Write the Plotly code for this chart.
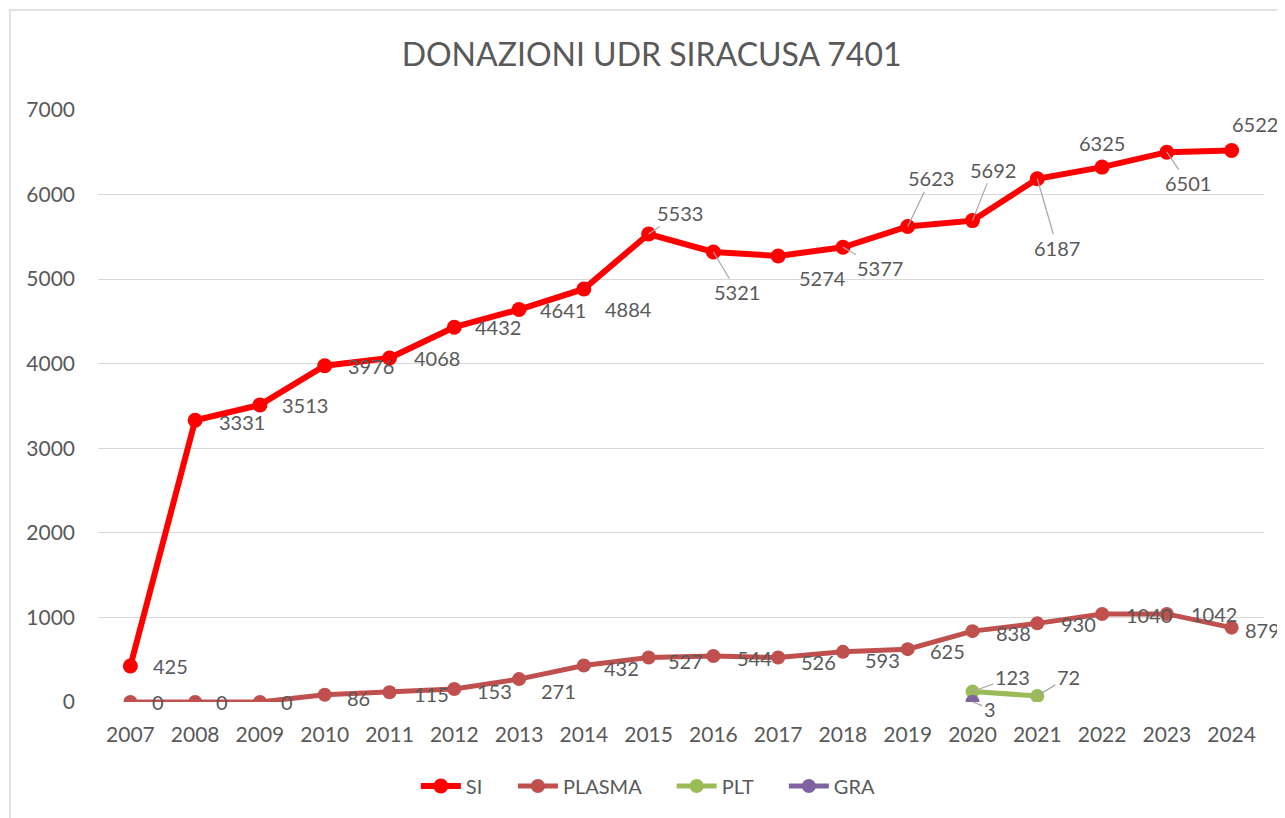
import plotly.graph_objects as go

years = list(range(2007, 2025))
si = [425, 3331, 3513, 3976, 4068, 4432, 4641, 4884, 5533, 5321, 5274, 5377, 5623, 5692, 6187, 6325, 6501, 6522]
plasma = [0, 0, 0, 86, 115, 153, 271, 432, 527, 544, 526, 593, 625, 838, 930, 1040, 1042, 879]
plt_years = [2020, 2021]
plt_vals = [123, 72]
gra_years = [2020]
gra_vals = [3]
y_ticks = [0, 1000, 2000, 3000, 4000, 5000, 6000, 7000]

# label offsets in pixels (dx, dy up-positive, leader line?)
si_off = [(40, 0, 0), (47, -2, 0), (45, 0, 0), (46, 0, 0), (47, 0, 0), (44, 0, 0), (44, 0, 0),
          (45, -20, 0), (31, 21, 1), (24, -40, 1), (44, -22, 0), (37, -21, 1), (23, 48, 1),
          (20, 51, 1), (20, -69, 1), (0, 24, 0), (21, -31, 1), (23, 26, 0)]
pl_off = [(28, 0, 0), (27, 0, 0), (27, 0, 0), (34, -3, 0), (42, -2, 0), (40, -2, 0), (39, -12, 0),
          (38, -3, 0), (37, -4, 0), (41, -2, 0), (40, -4, 0), (40, -8, 0), (40, -2, 0), (41, -2, 0),
          (41, -1, 0), (47, -1, 0), (47, 0, 0), (31, -2, 0)]
plt_off = [(40, 15, 1), (31, 19, 1)]
gra_off = [(17, -7, 1)]

FONT = "Lato, Carlito, Calibri, sans-serif"
GREY = "#595959"
PAD = "\u00a0" * 5

fig = go.Figure()
series = [
    ("SI", years, si, "#FF0000", 6, 15, si_off),
    ("PLASMA", years, plasma, "#C0504D", 5, 14, pl_off),
    ("PLT", plt_years, plt_vals, "#9BBB59", 5, 14, plt_off),
    ("GRA", gra_years, gra_vals, "#8064A2", 5, 14, gra_off),
]
annotations = []
for k, (name, xs, ys, col, lw, ms, offs) in enumerate(series):
    fig.add_trace(go.Scatter(x=xs, y=ys, name=name + (PAD if k < len(series) - 1 else ""),
                             mode="lines+markers",
                             line=dict(color=col, width=lw),
                             marker=dict(color=col, size=ms)))
    for x, y, (dx, dy, lead) in zip(xs, ys, offs):
        if lead:
            annotations.append(dict(x=x, y=y, xref="x", yref="y", text=str(y), showarrow=True,
                                    ax=dx, ay=-dy, arrowhead=0, arrowwidth=1.2,
                                    arrowcolor="#a6a6a6", standoff=0,
                                    font=dict(family=FONT, size=20, color=GREY)))
        else:
            annotations.append(dict(x=x, y=y, xref="x", yref="y", text=str(y), showarrow=False,
                                    xshift=dx, yshift=dy,
                                    font=dict(family=FONT, size=20, color=GREY)))

fig.update_layout(
    width=1277, height=810,
    paper_bgcolor="white", plot_bgcolor="white",
    margin=dict(l=90, r=21, t=102, b=116, autoexpand=False),
    title=dict(text="DONAZIONI UDR SIRACUSA 7401", x=0.504, xanchor="center", y=0.942, yanchor="middle",
               font=dict(family=FONT, size=32, color=GREY)),
    xaxis=dict(range=[years[0] - 0.5, years[-1] + 0.5], tickvals=years, showgrid=False,
               showline=False, zeroline=False, ticks="",
               tickfont=dict(family=FONT, size=21, color=GREY), ticklabelstandoff=18),
    yaxis=dict(range=[0, 7000], tickvals=y_ticks, showgrid=True, gridcolor="#d9d9d9",
               gridwidth=1, zeroline=False, showline=False, ticks="",
               tickfont=dict(family=FONT, size=21, color=GREY), ticklabelstandoff=22),
    legend=dict(orientation="h", x=0.472, xanchor="center", y=-0.142, yanchor="middle",
                font=dict(family=FONT, size=20, color=GREY), tracegroupgap=0, itemwidth=40),
    annotations=annotations,
    shapes=[dict(type="rect", xref="paper", yref="paper", x0=-0.0755, x1=1.03, y0=-0.25, y1=1.169,
                 line=dict(color="#d9d9d9", width=1.5), fillcolor="rgba(0,0,0,0)", layer="below")],
)
fig.write_html("out.html")
